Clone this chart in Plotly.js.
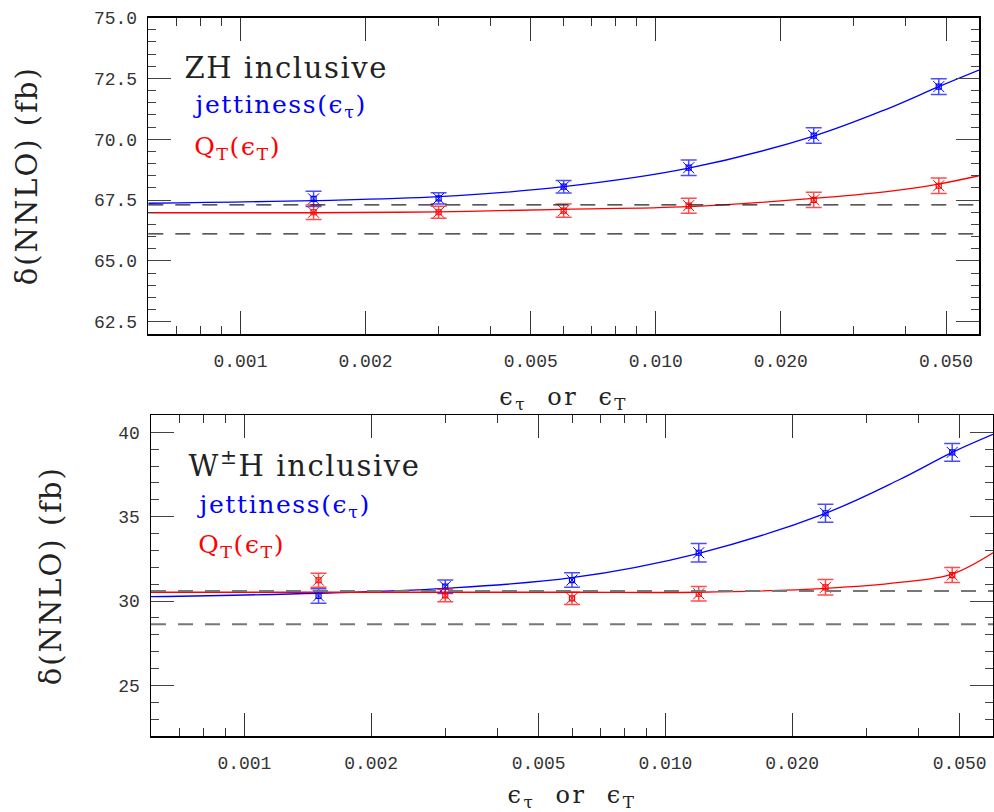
<!DOCTYPE html>
<html>
<head>
<meta charset="utf-8">
<script src="https://cdn.plot.ly/plotly-3.0.1.min.js"></script>
<style>
  html, body { margin: 0; padding: 0; background: #fff; }
  #chart { width: 994px; height: 812px; }
  /* wider letter spacing for the serif labels and axis titles */
  #chart .annotation-text { letter-spacing: 1.6px; }
  #chart .ytitle, #chart .y2title { letter-spacing: 2px; }
  #chart .xtitle, #chart .x2title { letter-spacing: 2.5px; }
</style>
</head>
<body>
<div id="chart"></div>
<script>
// Slicing parameter values at which the NNLO coefficient was computed
const eps = [0.0015, 0.003, 0.006, 0.012, 0.024, 0.048];

// ZH inclusive: NNLO coefficient (fb) and MC uncertainties
const zhJettiness    = [67.55, 67.57, 68.05, 68.83, 70.15, 72.16];
const zhJettinessErr = [0.31, 0.23, 0.26, 0.32, 0.32, 0.32];
const zhQt           = [67.00, 67.00, 67.07, 67.27, 67.51, 68.09];
const zhQtErr        = [0.30, 0.25, 0.27, 0.31, 0.31, 0.32];

// W±H inclusive: NNLO coefficient (fb) and MC uncertainties
const whJettiness    = [30.30, 30.85, 31.24, 32.86, 35.20, 38.81];
const whJettinessErr = [0.43, 0.40, 0.43, 0.55, 0.53, 0.52];
const whQt           = [31.23, 30.33, 30.16, 30.43, 30.81, 31.54];
const whQtErr        = [0.41, 0.37, 0.36, 0.43, 0.46, 0.45];

// Fitted extrapolation curves, sampled along the slicing parameter
const fitEps     = [0.0006, 0.0015, 0.003, 0.006, 0.012, 0.024, 0.036, 0.048, 0.06];
const zhJetFit   = [67.37, 67.48, 67.64, 68.05, 68.81, 70.13, 71.24, 72.16, 72.84];
const zhQtFit    = [66.98, 66.98, 67.02, 67.12, 67.23, 67.57, 67.85, 68.16, 68.50];
const whJetFit   = [30.26, 30.46, 30.75, 31.38, 32.83, 35.20, 37.20, 38.81, 39.88];
const whQtFit    = [30.52, 30.52, 30.52, 30.52, 30.52, 30.75, 31.10, 31.60, 32.86];

// Horizontal reference band edges (fb)
const zhBand = [67.30, 66.11];
const whBand = [30.60, 28.62];

// Axis ticks
const epsRange   = [0.0006, 0.06];
const xTickVals  = [0.001, 0.002, 0.005, 0.01, 0.02, 0.05];
const xTickText  = ['0.001', '0.002', '0.005', '0.010', '0.020', '0.050'];
const xMinorVals = [0.0007, 0.0008, 0.0009, 0.003, 0.004, 0.006, 0.007, 0.008, 0.009, 0.03, 0.04];

const BLUE = '#0000ff', RED = '#ff0000';
const BLUE_BAR = 'rgba(0,0,255,0.7)', RED_BAR = 'rgba(255,0,0,0.7)';

function panelTraces(xa, ya, jet, jetErr, qt, qtErr, jetFit, qtFit) {
  const out = [];
  [[jetFit, BLUE], [qtFit, RED]].forEach(([f, c]) => {
    out.push({x: fitEps, y: f, xaxis: xa, yaxis: ya, type: 'scatter', mode: 'lines',
              line: {color: c, width: 1.3, shape: 'spline'}, hoverinfo: 'skip'});
  });
  [[jet, jetErr, BLUE, BLUE_BAR], [qt, qtErr, RED, RED_BAR]].forEach(([v, e, c, cb]) => {
    out.push({x: eps, y: v, xaxis: xa, yaxis: ya, type: 'scatter', mode: 'markers',
              marker: {symbol: 'x-thin', size: 11, color: c, line: {color: c, width: 1}},
              error_y: {type: 'data', array: e, visible: true, color: cb, thickness: 1.5, width: 8}});
    out.push({x: eps, y: v, xaxis: xa, yaxis: ya, type: 'scatter', mode: 'markers',
              marker: {symbol: 'square-open', size: 5, color: c, line: {color: c, width: 1.2}},
              hoverinfo: 'skip'});
  });
  return out;
}

const data = [].concat(
  panelTraces('x', 'y', zhJettiness, zhJettinessErr, zhQt, zhQtErr, zhJetFit, zhQtFit),
  panelTraces('x2', 'y2', whJettiness, whJettinessErr, whQt, whQtErr, whJetFit, whQtFit)
);

const tickFont = {family: 'Liberation Mono', size: 18, color: '#333'};
const xTitle = {text: 'ϵ<sub>τ</sub>\u00a0 or\u00a0 ϵ<sub>T</sub>', font: {family: 'DejaVu Serif', size: 24, color: '#222'}, standoff: 17};
const yTitle = {text: 'δ(NNLO)\u00a0(fb)', font: {family: 'DejaVu Serif', size: 29, color: '#222'}, standoff: 48};

function xAxis(domain, anchor) {
  return {
    type: 'log', range: epsRange.map(Math.log10), domain: domain, anchor: anchor,
    tickmode: 'array', tickvals: xTickVals, ticktext: xTickText,
    ticks: 'inside', ticklen: 23, tickwidth: 1, tickcolor: '#333',
    minor: {tickmode: 'array', tickvals: xMinorVals, ticks: 'inside', ticklen: 8, tickwidth: 1, tickcolor: '#333'},
    showline: true, linecolor: '#000', linewidth: 1.5, mirror: 'allticks',
    showgrid: false, zeroline: false, automargin: false,
    tickfont: tickFont, ticklabelstandoff: 10, title: xTitle
  };
}

function yAxis(domain, anchor, range, tick0, dtick, minorDtick, fmt) {
  return {
    range: range, domain: domain, anchor: anchor,
    tick0: tick0, dtick: dtick, tickformat: fmt,
    ticks: 'inside', ticklen: 23, tickwidth: 1, tickcolor: '#444',
    minor: {tick0: tick0, dtick: minorDtick, ticks: 'inside', ticklen: 8, tickwidth: 1, tickcolor: '#444'},
    showline: true, linecolor: '#000', linewidth: 1.5, mirror: 'allticks',
    showgrid: false, zeroline: false, automargin: false,
    tickfont: tickFont, ticklabelstandoff: 6, title: yTitle
  };
}

function bandShapes(xref, yref, vals, color, width) {
  return vals.map(v => ({type: 'line', xref: xref + ' domain', yref: yref, x0: 0, x1: 1, y0: v, y1: v,
                         line: {color: color, width: width, dash: '15px,12px'}}));
}

function label(text, px, py, size, color) {
  return {text: text, xref: 'paper', yref: 'paper', x: px / 994, y: 1 - py / 812,
          xanchor: 'left', yanchor: 'middle', showarrow: false,
          font: {family: 'DejaVu Serif', size: size, color: color}};
}

const layout = {
  width: 994, height: 812,
  margin: {l: 0, r: 0, t: 0, b: 0},
  paper_bgcolor: '#fff', plot_bgcolor: '#fff',
  showlegend: false,
  xaxis:  xAxis([148.3 / 994, 979 / 994], 'y'),
  yaxis:  yAxis([1 - 334 / 812, 1 - 17.5 / 812], 'x', [62, 75], 62.5, 2.5, 0.5, '.1f'),
  xaxis2: xAxis([151 / 994, 993 / 994], 'y2'),
  yaxis2: yAxis([1 - 736 / 812, 1 - 415.4 / 812], 'x2', [22, 41], 25, 5, 1, 'd'),
  shapes: [].concat(
    bandShapes('x', 'y', zhBand, '#222', 1.3),
    bandShapes('x2', 'y2', whBand, '#777', 2)
  ),
  annotations: [
    label('ZH inclusive', 192, 68, 29, '#222'),
    label('jettiness(ϵ<sub>τ</sub>)', 201, 106, 25, BLUE),
    label('Q<sub>T</sub>(ϵ<sub>T</sub>)', 197, 148, 25, RED),
    label('W<sup>±</sup>H inclusive', 197, 464, 29, '#222'),
    label('jettiness(ϵ<sub>τ</sub>)', 205, 506, 25, BLUE),
    label('Q<sub>T</sub>(ϵ<sub>T</sub>)', 201, 546, 25, RED)
  ]
};

Plotly.newPlot('chart', data, layout, {staticPlot: true, displayModeBar: false});
</script>
</body>
</html>
